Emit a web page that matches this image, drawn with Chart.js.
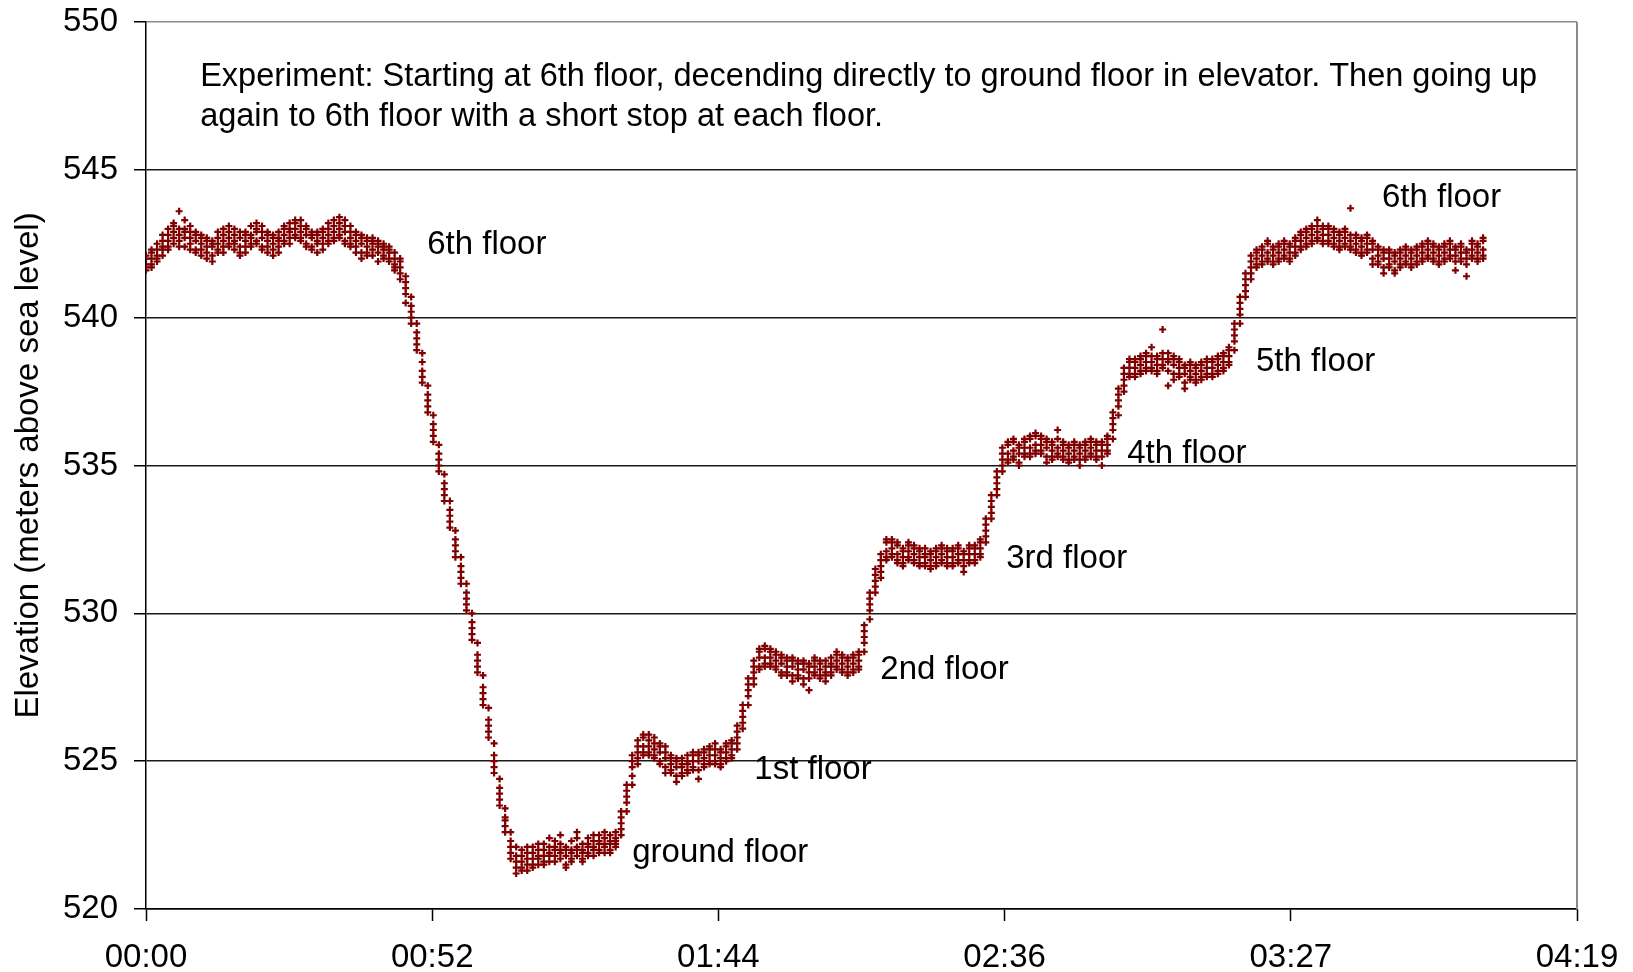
<!DOCTYPE html>
<html>
<head>
<meta charset="utf-8">
<script src="https://cdn.jsdelivr.net/npm/chart.js@4/dist/chart.umd.min.js"></script>
<style>
  html, body { margin: 0; padding: 0; background: #fff; }
  #wrap { width: 1633px; height: 972px; }
</style>
</head>
<body>
<div id="wrap"><canvas id="chart" width="1633" height="972"></canvas></div>
<script>
// elevation readings (m), five per second, index = seconds since start
const elevation = [
  [541.6,542.1,541.8,542.0,541.7],[541.7,542.2,542.0,541.8,542.3],[541.9,542.5,542.1,542.3,542.0],[542.1,542.8,542.4,542.6,542.3],
  [542.4,543.0,542.8,542.3,542.6],[543.1,542.5,542.9,542.7,543.2],[542.6,543.6,543.0,542.8,542.4],[543.3,542.7,542.4,542.9,543.0],
  [542.9,542.3,542.7,543.1,542.5],[542.3,542.8,542.6,542.9,542.2],[542.8,542.1,542.5,542.3,542.7],[542.0,542.6,542.4,542.7,542.2],
  [542.6,542.1,541.9,542.4,542.5],[542.2,542.9,542.5,542.3,542.7],[542.8,542.4,543.0,542.6,542.2],[542.4,543.1,542.7,542.9,542.5],
  [543.0,542.5,542.3,542.8,542.6],[542.2,542.7,542.9,542.4,542.1],[542.9,542.4,542.6,542.2,542.8],[542.5,543.1,542.8,542.4,542.7],
  [543.2,542.6,542.9,542.5,543.0],[542.4,542.9,542.7,543.1,542.3],[542.8,542.2,542.6,542.4,542.9],[542.1,542.7,542.5,542.8,542.3],
  [542.9,542.4,542.2,542.7,542.6],[542.5,543.1,542.8,542.6,543.0],[543.2,542.7,543.0,542.5,542.9],[542.7,543.3,543.0,542.8,543.2],
  [543.1,542.6,542.9,543.3,542.7],[542.5,543.0,542.8,542.4,543.1],[542.9,542.4,542.7,542.3,542.8],[542.2,542.8,542.5,542.9,542.6],
  [543.0,542.5,542.7,542.3,542.9],[542.6,543.2,542.8,542.5,543.0],[543.3,542.7,542.9,542.6,543.1],[542.7,543.4,543.0,542.8,543.2],
  [543.1,542.6,542.9,543.3,542.5],[542.4,542.9,542.7,543.1,542.5],[542.8,542.2,542.6,542.4,542.9],[542.2,542.7,542.5,542.0,542.8],
  [542.6,542.1,542.4,542.7,542.2],[542.3,542.7,542.5,542.1,542.6],[542.6,542.2,541.9,542.4,542.5],[542.0,542.5,542.3,542.4,542.1],
  [542.4,541.9,542.2,542.3,542.0],[541.6,542.2,542.0,541.8,541.7],[541.3,542.0,541.7,541.5,541.9],[540.5,541.4,541.0,540.8,541.2],
  // descent in the elevator
  [540.7,540.4,540.2,540.0,539.8],[539.8,539.5,539.3,539.1,538.9],[538.8,538.5,538.2,538.0,537.8],[537.7,537.4,537.2,537.0,536.8],
  [536.7,536.4,536.2,536.0,535.8],[535.7,535.4,535.2,535.0,534.8],[534.7,534.4,534.2,534.0,533.8],[533.8,533.5,533.3,533.1,532.9],
  [532.8,532.5,532.3,532.1,531.9],[531.9,531.6,531.4,531.2,531.0],[531.0,530.7,530.5,530.3,530.1],[530.0,529.7,529.5,529.3,529.1],
  [529.0,528.6,528.4,528.2,528.0],[527.9,527.5,527.3,527.1,526.9],[526.8,526.4,526.2,526.0,525.8],[525.6,525.2,525.0,524.8,524.6],
  [524.4,524.1,523.9,523.7,523.5],[523.4,523.1,523.0,522.8,522.6],[522.6,522.3,522.1,521.9,521.7],[522.1,521.8,521.6,521.4,521.2],
  // ground floor
  [522.0,521.6,521.4,521.8,521.3],[521.9,521.5,521.3,521.7,522.1],[522.1,521.7,521.5,521.9,521.4],[522.0,521.5,521.7,521.8,522.2],
  [522.2,521.8,521.6,522.0,521.5],[522.1,521.6,521.8,521.9,522.4],[522.3,521.8,522.0,522.1,521.6],[522.2,521.7,521.9,522.0,522.5],
  [522.1,521.5,521.4,521.8,522.0],[522.3,521.7,521.9,522.0,521.6],[522.4,521.8,522.0,522.1,522.6],[522.2,521.7,521.9,522.0,521.6],
  [522.4,521.9,522.1,522.2,521.8],[522.3,521.8,522.0,522.1,522.5],[522.5,522.0,522.2,522.3,521.9],[522.4,521.9,522.1,522.2,522.6],
  [522.5,522.0,522.2,522.3,521.9],[522.6,522.1,522.3,522.4,522.2],
  [522.5,522.7,522.9,523.1,523.3],[523.3,523.6,523.8,524.0,524.2],[524.2,524.5,524.8,525.0,525.2],[524.9,525.1,525.3,525.5,525.7],
  // 1st floor
  [525.2,525.8,525.5,525.3,525.9],[525.7,525.3,525.9,525.5,525.2],[525.1,525.6,525.4,525.8,525.2],[525.5,525.0,525.3,524.9,525.6],
  [524.8,525.3,525.1,525.5,524.6],[525.2,524.7,524.9,525.1,524.6],[524.5,525.1,524.8,524.3,525.0],[525.1,524.6,524.9,524.5,524.8],
  [524.6,525.2,524.9,525.0,524.7],[525.3,524.8,525.0,524.7,525.2],[524.7,525.2,525.0,524.4,525.3],[525.4,524.9,525.1,524.8,525.3],
  [524.9,525.5,525.2,525.0,525.4],[525.6,525.0,525.2,524.9,525.4],[524.8,525.3,525.1,525.4,524.9],[525.6,525.1,525.3,525.0,525.5],
  [525.1,525.7,525.4,525.2,525.6],
  [525.4,525.6,525.8,526.0,526.2],[526.1,526.3,526.5,526.7,526.9],[526.9,527.2,527.4,527.6,527.8],[527.6,527.8,528.0,528.2,528.4],
  // 2nd floor
  [528.1,528.7,528.5,528.2,528.8],[528.8,528.3,528.5,528.9,528.2],[528.2,528.7,528.5,528.3,528.8],[528.7,528.2,528.4,528.6,528.1],
  [528.0,528.5,528.3,528.6,527.9],[528.5,528.0,528.2,527.9,528.4],[527.9,528.4,528.2,527.7,528.5],[528.4,527.9,528.1,528.3,527.8],
  [527.8,528.3,528.1,527.6,528.4],[528.3,527.8,528.0,527.4,528.2],[527.9,528.5,528.2,528.0,528.4],[528.4,527.9,528.1,527.8,528.3],
  [527.7,528.2,528.0,528.4,527.9],[528.5,528.0,528.2,527.9,528.3],[528.1,528.6,528.4,528.2,528.7],[528.6,528.1,528.3,528.0,528.5],
  [527.9,528.4,528.2,528.5,528.0],[528.5,528.1,528.3,528.0,528.6],[528.1,528.6,528.4,528.7,528.2],
  [528.7,529.0,529.2,529.4,529.6],[529.8,530.1,530.3,530.5,530.7],[530.7,530.9,531.1,531.3,531.5],[531.2,531.4,531.6,531.8,532.0],
  // 3rd floor
  [531.8,532.4,532.1,531.9,532.5],[532.5,531.9,532.2,532.0,532.4],[531.7,532.3,532.0,532.4,531.8],[532.2,531.7,531.9,531.6,532.1],
  [531.8,532.3,532.1,532.4,531.9],[532.3,531.8,532.0,531.7,532.2],[531.6,532.1,531.9,532.2,531.7],[532.2,531.7,531.9,531.6,532.0],
  [531.5,532.0,531.8,532.1,531.6],[532.1,531.7,531.9,531.6,532.2],[531.8,532.3,532.0,532.2,531.7],[532.2,531.7,531.9,531.6,532.1],
  [531.7,532.1,531.9,532.2,531.6],[532.3,531.8,532.0,531.7,532.2],[531.4,532.0,531.8,532.1,531.6],[532.3,531.8,532.0,531.7,532.2],
  [531.7,532.2,532.0,532.3,531.8],[532.5,532.0,532.2,531.9,532.4],
  [532.4,532.6,532.8,533.0,533.2],[533.2,533.4,533.6,533.8,534.0],[534.0,534.2,534.4,534.6,534.8],[534.8,535.0,535.2,535.4,535.6],
  // 4th floor
  [535.1,535.7,535.4,535.2,535.8],[535.8,535.3,535.5,535.9,535.2],[535.1,535.6,535.4,535.7,535.0],[535.9,535.4,535.6,535.3,535.8],
  [535.3,535.9,535.6,536.0,535.4],[536.0,535.5,535.7,535.4,536.1],[535.4,535.9,535.7,536.0,535.5],[535.9,535.3,535.6,535.1,535.8],
  [535.2,535.7,535.5,535.8,535.3],[535.9,535.4,535.6,536.2,535.3],[535.2,535.8,535.5,535.3,535.7],[535.7,535.2,535.4,535.1,535.6],
  [535.2,535.7,535.5,535.8,535.3],[535.7,535.2,535.4,535.0,535.6],[535.3,535.8,535.5,535.2,535.7],[535.9,535.4,535.6,535.3,535.8],
  [535.2,535.7,535.5,535.8,535.3],[535.8,535.3,535.5,535.0,535.7],[535.4,535.9,535.7,536.0,535.5],
  [535.9,536.2,536.4,536.6,536.8],[536.7,537.0,537.2,537.4,537.6],[537.5,537.7,537.9,538.1,538.3],
  // 5th floor
  [538.0,538.6,538.3,538.1,538.5],[538.6,538.1,538.3,538.0,538.5],[538.1,538.7,538.4,538.6,538.2],[538.8,538.3,538.5,538.2,538.7],
  [538.2,538.7,538.5,539.0,538.3],[538.7,538.2,538.4,538.1,538.6],[538.3,538.8,538.6,539.6,538.4],[538.8,538.2,538.5,537.7,538.6],
  [538.1,538.6,538.4,538.7,537.9],[538.6,538.1,538.3,538.0,538.5],[537.8,538.3,538.1,537.6,538.4],[538.5,538.0,538.2,537.9,538.4],
  [537.8,538.3,538.1,538.4,537.9],[538.5,538.0,538.2,537.9,538.4],[538.0,538.5,538.3,538.6,538.1],[538.6,538.1,538.3,538.0,538.5],
  [538.1,538.6,538.4,538.7,538.2],[538.8,538.3,538.5,538.2,538.7],[538.4,538.9,538.7,539.0,538.5],
  [538.9,539.2,539.4,539.6,539.8],[539.8,540.1,540.3,540.5,540.7],[540.7,540.9,541.1,541.3,541.5],[541.3,541.5,541.7,541.9,542.1],
  [541.7,542.3,542.0,542.2,541.8],
  // back on 6th floor
  [541.8,542.4,542.1,541.9,542.3],[542.5,542.0,542.2,541.9,542.6],[541.8,542.3,542.1,542.4,541.9],[542.5,542.0,542.2,541.9,542.4],
  [542.0,542.5,542.3,542.6,542.1],[542.5,542.0,542.2,541.9,542.4],[542.1,542.6,542.4,542.7,542.2],[542.9,542.3,542.6,542.4,542.8],
  [542.4,542.9,542.7,543.0,542.5],[543.1,542.6,542.8,542.5,543.0],[542.6,543.1,542.9,543.3,542.7],[543.1,542.6,542.8,542.5,543.0],
  [542.5,543.0,542.8,543.1,542.6],[543.0,542.5,542.7,542.4,542.9],[542.3,542.8,542.6,542.9,542.4],[543.0,542.5,542.7,542.4,542.9],
  [542.3,542.8,542.6,543.7,542.4],[542.8,542.3,542.5,542.2,542.7],[542.1,542.6,542.4,542.7,542.2],[542.8,542.3,542.5,542.2,542.7],
  [542.0,542.5,542.3,541.8,542.6],[542.4,541.9,542.1,541.8,542.3],[541.7,542.2,542.0,541.5,542.3],[542.3,541.8,542.0,541.7,542.2],
  [541.6,542.1,541.9,541.5,542.2],[542.3,541.8,542.0,541.7,542.2],[541.8,542.3,542.1,542.4,541.9],[542.3,541.8,542.0,541.7,542.2],
  [541.8,542.3,542.1,542.4,541.9],[542.5,542.0,542.2,541.9,542.4],[542.0,542.5,542.3,542.6,542.1],[542.5,542.0,542.2,541.9,542.4],
  [541.8,542.3,542.1,542.4,541.9],[542.5,542.0,542.2,541.9,542.4],[542.0,542.5,542.3,542.6,542.1],[542.4,541.9,542.1,541.6,542.3],
  [541.9,542.4,542.2,542.5,542.0],[542.3,541.8,542.0,541.4,542.2],[542.0,542.5,542.3,542.6,542.1],[542.5,542.0,542.2,541.9,542.4],
  [542.0,542.6,542.3,542.7,542.1]
];

const tickSeconds = [0, 51.8, 103.6, 155.4, 207.2, 259];
const tickLabels = ['00:00', '00:52', '01:44', '02:36', '03:27', '04:19'];

const floorNames = ['6th floor', 'ground floor', '1st floor', '2nd floor', '3rd floor', '4th floor', '5th floor', '6th floor'];
const floorTimes = [50.9, 88.0, 110.1, 132.9, 155.7, 177.6, 200.9, 223.7];
const floorElevations = [542.45, 521.9, 524.7, 528.1, 531.85, 535.4, 538.5, 544.05];

const noteLines = [
  'Experiment: Starting at 6th floor, decending directly to ground floor in elevator. Then going up',
  'again to 6th floor with a short stop at each floor.'
];

const FONT = '"Liberation Sans", Arial, sans-serif';

const points = [];
elevation.forEach((readings, sec) => {
  readings.forEach(v => points.push({x: sec, y: v}));
});

// text placed in data coordinates + right frame line
const textPlugin = {
  id: 'textPlugin',
  afterDraw(chart) {
    const {ctx, chartArea, scales} = chart;
    const xs = scales.x, ys = scales.y;
    ctx.save();
    ctx.strokeStyle = '#8c8c8c';
    ctx.lineWidth = 2;
    ctx.beginPath();
    ctx.moveTo(chartArea.right, chartArea.top);
    ctx.lineTo(chartArea.right, chartArea.bottom);
    ctx.stroke();

    ctx.fillStyle = '#000';
    ctx.textBaseline = 'middle';
    ctx.textAlign = 'left';
    ctx.font = '33px ' + FONT;
    floorNames.forEach((name, i) => {
      ctx.fillText(name, xs.getPixelForValue(floorTimes[i]), ys.getPixelForValue(floorElevations[i]));
    });
    ctx.font = '32.5px ' + FONT;
    ctx.fillText(noteLines[0], xs.getPixelForValue(9.8), ys.getPixelForValue(548.15));
    ctx.fillText(noteLines[1], xs.getPixelForValue(9.8), ys.getPixelForValue(546.8));
    ctx.restore();
  }
};

new Chart(document.getElementById('chart').getContext('2d'), {
  type: 'scatter',
  data: {
    datasets: [{
      data: points,
      pointStyle: 'cross',
      pointRadius: 3.5,
      pointBorderWidth: 2.2,
      borderColor: '#800000',
      backgroundColor: '#800000',
      pointHoverRadius: 3.5
    }]
  },
  options: {
    responsive: false,
    animation: false,
    layout: {padding: {left: 9, right: 56, top: 4, bottom: 0}},
    plugins: {
      legend: {display: false},
      tooltip: {enabled: false}
    },
    scales: {
      x: {
        type: 'linear',
        min: 0,
        max: 259,
        afterBuildTicks: axis => { axis.ticks = tickSeconds.map(v => ({value: v})); },
        afterFit: axis => {
          axis.height = 63;
          axis.paddingLeft = 0;
          axis.paddingRight = 0;
        },
        ticks: {
          autoSkip: false,
          maxRotation: 0,
          padding: 20,
          color: '#000',
          font: {family: FONT, size: 33, lineHeight: 1},
          callback: (value, index) => tickLabels[index]
        },
        grid: {
          drawOnChartArea: false,
          drawTicks: true,
          tickLength: 12,
          tickWidth: 1.5,
          tickColor: '#000'
        },
        border: {display: true, color: '#000', width: 1.5}
      },
      y: {
        min: 520,
        max: 550,
        afterFit: axis => {
          axis.width = 137;
          axis.paddingTop = 22;
          axis.paddingBottom = 0;
        },
        ticks: {
          stepSize: 5,
          padding: 16,
          color: '#000',
          font: {family: FONT, size: 33, lineHeight: 1}
        },
        grid: {
          color: ctx => ctx.tick && ctx.tick.value === 550 ? '#8c8c8c' : '#1a1a1a',
          lineWidth: 1.5,
          tickLength: 12,
          tickColor: '#000'
        },
        border: {display: true, color: '#000', width: 1.5},
        title: {
          display: true,
          text: 'Elevation (meters above sea level)',
          color: '#000',
          font: {family: FONT, size: 33},
          padding: {top: 0, bottom: 0}
        }
      }
    }
  },
  plugins: [textPlugin]
});
</script>
</body>
</html>
